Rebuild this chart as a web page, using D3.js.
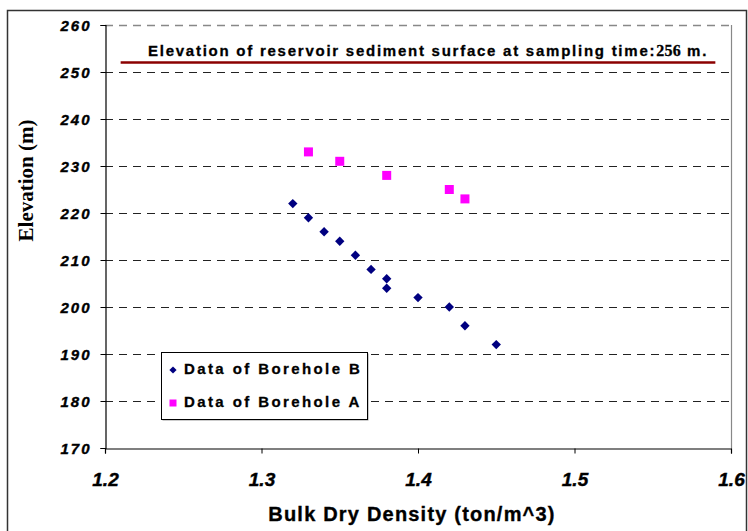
<!DOCTYPE html>
<html><head><meta charset="utf-8">
<script src="https://cdn.jsdelivr.net/npm/d3@7"></script>
<style>body{margin:0;background:#fff}svg{display:block}</style>
</head><body>
<svg id="c" width="748" height="531"></svg>
<script>
const boreholeB_x = [1.32,1.33,1.34,1.35,1.36,1.37,1.38,1.38,1.40,1.42,1.43,1.45];
const boreholeB_y = [222,219,216,214,211,208,206,204,202,200,196,192];
const boreholeA_x = [1.33,1.35,1.38,1.42,1.43];
const boreholeA_y = [233,231,228,225,223];
const xTicks = [1.2,1.3,1.4,1.5,1.6];
const yTicks = [170,180,190,200,210,220,230,240,250,260];
const surfaceLine_x = [1.21,1.59];
const surfaceElev = 252;
const seriesNames = ["Data of Borehole B","Data of Borehole A"];

const svg = d3.select("#c");
const L=105,R=731,T=25,B=448;
const x = d3.scaleLinear().domain([1.2,1.6]).range([L,R]);
const y = d3.scaleLinear().domain([170,260]).range([B,T]);
const SANS = "Liberation Sans, Arial, sans-serif";
const SERIF = "Liberation Serif, Times New Roman, serif";

// outer border
svg.append("rect").attr("x",7.5).attr("y",10.5).attr("width",739).attr("height",530)
  .attr("fill","none").attr("stroke","#333").attr("stroke-width",1.5);

// plot frame right
svg.append("line").attr("x1",R+0.5).attr("x2",R+0.5).attr("y1",T).attr("y2",B).attr("stroke","#888").attr("stroke-width",1.2);

// gridlines
svg.append("g").selectAll("line").data(yTicks.filter(d=>d>170)).join("line")
  .attr("x1",L).attr("x2",R).attr("y1",d=>Math.round(y(d))+0.5).attr("y2",d=>Math.round(y(d))+0.5)
  .attr("stroke",d=>d===260?"#888":"#222").attr("stroke-width",d=>d===260?1.5:1)
  .attr("stroke-dasharray","8,6");

// axes
const yAxis = d3.axisLeft(y).tickValues(yTicks).tickSize(5).tickPadding(9).tickFormat(d3.format("d"));
const gy = svg.append("g").attr("transform",`translate(${L+0.5},0)`).call(yAxis);
gy.select(".domain").attr("stroke","#000").attr("stroke-width",1.2);
gy.selectAll(".tick line").attr("stroke","#000");
gy.selectAll("text").attr("font-family",SANS).attr("font-weight","bold")
  .attr("font-style","italic").attr("font-size",15).attr("letter-spacing","2px").attr("fill","#000")
  .attr("stroke","#000").attr("stroke-width",0.4).attr("dy","0.36em");

const xAxis = d3.axisBottom(x).tickValues(xTicks).tickSize(5).tickPadding(19).tickFormat(d3.format(".1f"));
const gx = svg.append("g").attr("transform",`translate(0,${B+0.5})`).call(xAxis);
gx.select(".domain").attr("stroke","#000").attr("stroke-width",1.2);
gx.selectAll(".tick line").attr("stroke","#000");
gx.selectAll("text").attr("font-family",SANS).attr("font-weight","bold")
  .attr("font-style","italic").attr("font-size",19).attr("fill","#000")
  .attr("stroke","#000").attr("stroke-width",0.4);

// axis titles
svg.append("text").attr("x",412).attr("y",521).attr("text-anchor","middle")
  .attr("font-family",SANS).attr("font-weight","bold").attr("font-size",20).attr("letter-spacing","1.2px")
  .attr("stroke","#000").attr("stroke-width",0.35)
  .text("Bulk Dry Density (ton/m^3)");
svg.append("text").attr("transform",`translate(33,180.5) rotate(-90)`).attr("text-anchor","middle")
  .attr("font-family",SERIF).attr("font-weight","bold").attr("font-size",21)
  .text("Elevation (m)");

// surface line
svg.append("line").attr("x1",x(surfaceLine_x[0])).attr("x2",x(surfaceLine_x[1]))
  .attr("y1",y(surfaceElev)).attr("y2",y(surfaceElev)).attr("stroke","#8b0000").attr("stroke-width",2.5);
const ann = svg.append("text").attr("x",148).attr("y",56)
  .attr("font-family",SANS).attr("font-weight","bold").attr("font-size",15)
  .attr("letter-spacing","1.75px").attr("stroke","#000").attr("stroke-width",0.3);
ann.append("tspan").text("Elevation of reservoir sediment surface at sampling time:");
ann.append("tspan").attr("font-family",SERIF).attr("font-size",16).attr("letter-spacing","0.3px").text("256");
ann.append("tspan").text(" m.");

// data
const dataB = boreholeB_x.map((v,i)=>({x:v,y:boreholeB_y[i]}));
const dataA = boreholeA_x.map((v,i)=>({x:v,y:boreholeA_y[i]}));
svg.append("g").selectAll("path").data(dataB).join("path")
  .attr("transform",d=>`translate(${x(d.x)},${y(d.y)}) rotate(45)`)
  .attr("d",d3.symbol().type(d3.symbolSquare).size(44)()).attr("fill","#000080");
svg.append("g").selectAll("rect").data(dataA).join("rect")
  .attr("x",d=>x(d.x)-4.5).attr("y",d=>y(d.y)-4.5).attr("width",9).attr("height",9).attr("fill","#ff00ff");

// legend
const lg = svg.append("g");
lg.append("rect").attr("x",162.5).attr("y",353.5).attr("width",206).attr("height",67)
  .attr("fill","#999");
lg.append("rect").attr("x",161.5).attr("y",352.5).attr("width",206).attr("height",67)
  .attr("fill","#fff").attr("stroke","#000").attr("stroke-width",1);
lg.append("path").attr("transform","translate(173,370) rotate(45)").attr("d",d3.symbol().type(d3.symbolSquare).size(26)()).attr("fill","#000080");
lg.append("rect").attr("x",169.5).attr("y",399.5).attr("width",7).attr("height",7).attr("fill","#ff00ff");
lg.selectAll("text").data(seriesNames).join("text")
  .attr("x",184).attr("y",(d,i)=>374+i*33)
  .attr("font-family",SANS).attr("font-weight","bold").attr("font-size",15)
  .attr("letter-spacing","2.4px").attr("stroke","#000").attr("stroke-width",0.3).text(d=>d);
</script>
</body></html>
